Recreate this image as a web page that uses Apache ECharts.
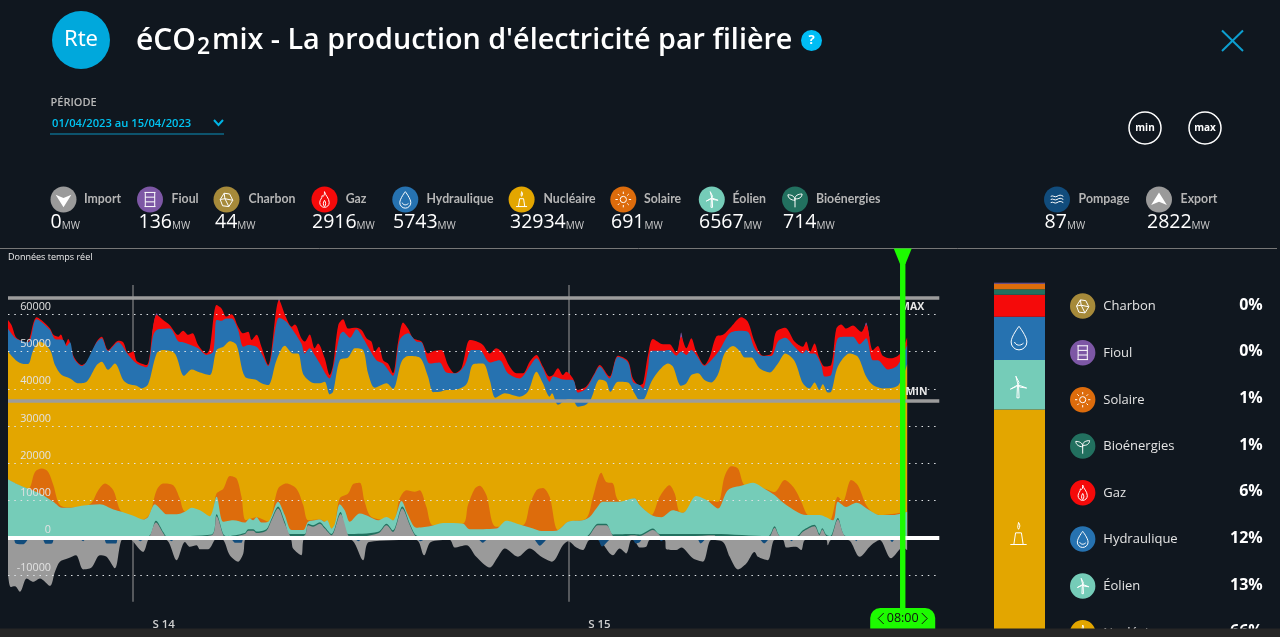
<!DOCTYPE html>
<html><head><meta charset="utf-8">
<style>html,body{margin:0;padding:0;background:#10171f;overflow:hidden}#c{width:1280px;height:637px}</style>
<script src="https://cdn.jsdelivr.net/npm/echarts@6/dist/echarts.min.js"></script>
</head><body><div id="c"></div>
<script>
// Cumulative upper edges of the stacked production areas: [hour since 01/04 00:00, MW]
const cumulFioul=[[55.5,54000],[57.3,60300],[59,57000],[59.1,null],[103.5,58000],[104.5,64400],[105.5,60000],[105.6,null],[258.5,50000],[259.5,55100],[260.5,50500],[260.6,null],[329.5,54000],[330.8,57800],[332,54000]];
const cumulGaz=[[0,58500],[1.4,57100],[2.95,54000],[4.6,53100],[7.2,52200],[8.5,54000],[9.75,57600],[11,59200],[13.6,58000],[16.2,56200],[17.5,54500],[19.4,54000],[20.4,54600],[22,51800],[23.2,53400],[25.4,48600],[28.4,46400],[30.9,47700],[34.2,52700],[36.1,54000],[38.6,50400],[40.6,51800],[42.5,52900],[44.4,52500],[46.4,49500],[48.3,50000],[49.6,47500],[53.4,46400],[56,57100],[57.3,59800],[59.8,58500],[62.4,57100],[65.6,54500],[67.5,55600],[69.5,54500],[71.1,54900],[73.3,51800],[76.5,49500],[77.8,50900],[80.4,62500],[82.3,61600],[84.2,59400],[86.2,60000],[88.7,56700],[90.7,54900],[92.6,55300],[93.9,53100],[95.8,54500],[97.7,51300],[100.3,46400],[104.5,63800],[107.3,59000],[109.3,56700],[110.6,57300],[113.1,53600],[114.4,52700],[116.3,54600],[118.2,50900],[119.5,52200],[122.1,48200],[124,43700],[125.3,46400],[127.3,57100],[129.2,58700],[131.1,56200],[134.3,56400],[136.3,55800],[138.2,53600],[140.1,52700],[141.4,50000],[143,51300],[144.6,47700],[146.5,46800],[148.4,44200],[150.4,52700],[152.3,57800],[154.2,56200],[156.2,53600],[159.4,52700],[161.9,49500],[164.5,50200],[167.1,50400],[169.6,46400],[172.2,44200],[174.8,45500],[178,53100],[180.5,52800],[183.1,51800],[185.7,49500],[188.2,50900],[190.8,49500],[193.4,46000],[196,44200],[198.5,44200],[201.1,47300],[203.7,49100],[206.2,46000],[208.8,43300],[210.1,43700],[212,45500],[213.9,43700],[215.2,44600],[217.8,42800],[219.7,39700],[222.9,40600],[226.1,44200],[228.1,46400],[231.9,43300],[235.1,48900],[239,47500],[240.9,42800],[243.5,41000],[244.8,41500],[246.7,49100],[248.6,53400],[252.5,52000],[255,52000],[257.6,49700],[259.5,54000],[261.5,50900],[263.4,53600],[265.3,50000],[268.5,46400],[270.5,48600],[273,54000],[275.6,54500],[278.8,56700],[282.7,59200],[285.2,58000],[287.8,52700],[291,48900],[294.2,49500],[296.1,55300],[299.6,56400],[303.2,52700],[306.4,51300],[307.7,52700],[309.2,50000],[310.9,52200],[312.8,48200],[314.8,46000],[317.3,46400],[319.3,56200],[321.2,57300],[323.1,56200],[325.7,57000],[328.9,55300],[330.8,57300],[333.4,50400],[335.3,51500],[337.2,48900],[340.4,48200],[343.7,49300],[346.6,53800]];
const cumulHydro=[[0,56200],[2.95,53600],[7.8,52500],[11,58700],[16.2,55800],[18.1,53400],[21.3,53100],[22.6,51500],[23.9,52500],[25.4,48200],[28.4,46100],[34.2,52500],[36.1,53600],[38.6,50200],[42.5,52500],[46.4,49100],[49.6,46800],[53.4,45800],[56,54400],[57.3,55800],[59.8,56100],[62.4,56200],[65.6,52800],[67.5,52500],[73.3,50900],[76.5,49100],[79.1,50000],[80.4,58500],[82.3,58300],[84.2,58900],[86.2,58900],[88.7,55800],[90.7,51300],[92.6,51800],[95.8,51300],[97.7,49500],[100.3,46100],[104.5,59100],[107.3,58000],[113.1,52200],[114.4,49500],[116.3,50900],[118.2,49100],[120.2,46800],[124,42800],[125.3,45500],[127.9,54400],[129.2,55300],[131.8,53700],[134.3,56000],[136.9,53600],[139.5,50400],[142,47700],[144.6,46800],[148.4,43500],[151,53100],[154.2,54900],[157.4,52700],[159.4,52500],[162.6,46800],[166.4,47100],[169,44400],[172.8,44200],[176.1,46400],[178.6,50400],[181.8,50400],[185.7,47100],[189.5,47700],[192.7,44200],[197.2,42800],[201.1,46000],[203.7,48200],[206.2,45500],[208.8,41900],[210.1,43300],[212,43000],[213.9,42500],[217.8,42400],[219.7,39000],[222.9,40100],[226.1,43900],[228.1,46000],[231.9,42800],[235.1,48600],[239,47100],[240.9,41900],[243.5,41000],[244.8,40100],[246.7,45500],[248,50200],[252.5,50200],[255,50400],[257.6,48900],[259.5,50000],[261.5,49100],[263.4,50400],[265.3,49100],[268.5,46200],[271.1,47700],[274.3,50400],[278.2,54900],[282,55600],[285.2,55300],[287.8,50900],[291,48800],[294.2,48800],[296.8,52700],[299.6,53700],[303.2,51300],[306.4,49500],[307.7,50400],[309.2,49500],[310.9,49500],[313.5,46400],[314.8,43300],[317.3,43700],[319.9,53600],[323.1,54000],[325.7,54000],[328.3,52000],[330.8,53600],[333.4,47700],[335.3,47700],[339.2,45200],[343,46400],[346.6,51800]];
const cumulNucleaire=[[0,50000],[3,47700],[6,46700],[7.8,46700],[9.75,50400],[12.3,52700],[16.2,50400],[18.1,46400],[20.7,43700],[23.9,42800],[27.1,41500],[30.3,41900],[34.2,46400],[36.1,47300],[38.6,45100],[41.2,46800],[44.4,42400],[46.4,41300],[49.6,40800],[51.5,40100],[54,41200],[57.3,49500],[59.8,50400],[64.3,49500],[67.9,43500],[70.8,45200],[74,44400],[77.8,43700],[80.4,50400],[83,51300],[85.5,52800],[88.1,51800],[91.3,43300],[95.8,42400],[97.7,41500],[100.3,41000],[103.5,47700],[106.7,51600],[109.9,49500],[111.8,49500],[114,43700],[118.2,41500],[120.2,41500],[122.1,41900],[124,38500],[125.3,39200],[127.9,47700],[131.1,48400],[133.7,50900],[136.9,50400],[138.8,44200],[141.4,40300],[145.9,41500],[148.4,40000],[151.7,47300],[154.2,48800],[158.7,48400],[161.9,43300],[163.9,39100],[166.4,39200],[169,39700],[171.6,39700],[176.7,41200],[179.3,46600],[183.1,46800],[185.7,42400],[187.9,37600],[191.5,38800],[197.2,37900],[200.4,39200],[203.7,44600],[206.2,41500],[208.8,37900],[209.7,38800],[212,35700],[215.9,37200],[217.8,37000],[219.7,35200],[222.9,35800],[224.8,37400],[228.1,42500],[230.6,41900],[232.2,39200],[235.1,41900],[239,41700],[241.5,38800],[243.5,37000],[245.4,37400],[248,41900],[251.2,45100],[254.4,46800],[256.3,46000],[259.5,40800],[261.5,41500],[263.4,43700],[266,44200],[268.5,42400],[271.1,41700],[273.7,43900],[276.2,49500],[279.5,51500],[282,50200],[284,48400],[286.5,48400],[289.7,45500],[293.6,44400],[296.8,46800],[299.6,49500],[303.2,47500],[306.4,41500],[309,40100],[310.9,41700],[312.8,39700],[314.1,41200],[316,39000],[317.3,39200],[319.9,46000],[324.4,49500],[327.6,48600],[330.8,43300],[333.4,41000],[337.2,40100],[343,40800],[346.6,46600]];
const cumulSolaire=[[0,15660],[7.8,13250],[10.4,17700],[13,18600],[15.5,17700],[17.5,14100],[20,8800],[24.5,8100],[31.6,9000],[34.8,12800],[37.4,14600],[40.6,12800],[43.8,7000],[52.1,4900],[54.7,6500],[57.3,12800],[59.8,14600],[63.7,14100],[66.2,10600],[68.2,7000],[77.8,5800],[80.4,11900],[83,13200],[85.5,16600],[88.1,15900],[90,11000],[91.7,4700],[95.8,5500],[100.3,4300],[104.1,13200],[107.3,14600],[111.2,13200],[113.8,8800],[115.7,4700],[120.2,4900],[122.1,4300],[124.7,2500],[126,3800],[127.9,10600],[131.1,11900],[133,14400],[135.6,14800],[137.5,9700],[140.1,5600],[148.4,4700],[151,10600],[153.6,12800],[156.8,12400],[158.7,12800],[161.3,8300],[163.9,3400],[175.4,3800],[177.3,8800],[179.9,13200],[181.8,14000],[184.4,11500],[188.2,3000],[198.5,3400],[201.1,8800],[203.7,12800],[206.2,13400],[208.8,11000],[212,2100],[215.9,4300],[222.9,5200],[225.5,11000],[228.7,17500],[230.6,15000],[233.2,14600],[234.5,11000],[235.8,9700],[238,9700],[241.5,10600],[243.5,8800],[248,6100],[251.2,11000],[255,14100],[257,11900],[259.5,6700],[269.8,9900],[273.7,9700],[276.2,16400],[278.8,19200],[281.4,18600],[284,14100],[291.6,13200],[295.5,12300],[299.4,15500],[303.2,13200],[305.8,9700],[308.3,6100],[312.8,4900],[316.7,4600],[319.9,11000],[321.8,9700],[325,15500],[327.6,14100],[330.8,8800],[333.4,6700],[336,6100],[346.6,7000]];
const cumulEolien=[[0,15700],[2.95,14600],[7.8,13200],[12.3,11900],[17.5,9700],[20.7,8100],[24.5,8100],[28.4,8600],[35.4,9000],[40.6,7600],[43.8,7000],[48.3,5900],[52.1,4900],[54,5600],[56.6,9000],[59.2,7400],[61.1,6300],[65,6300],[68.2,7000],[70.8,8100],[74,7400],[77.8,5800],[80.4,11000],[83,4300],[86.8,4700],[91.3,4100],[93.2,5200],[94.5,4700],[95.8,5500],[97.7,4100],[100.3,4300],[104.1,9700],[106.7,6100],[109.3,2100],[113.8,2100],[115.7,4300],[118.2,4700],[120.2,4900],[122.1,4300],[123,4700],[124.7,2500],[126,3800],[127.9,9000],[129.8,7400],[131.8,4300],[135.6,6500],[139.5,5600],[142.7,4700],[145.9,5600],[148.4,4700],[151.7,9900],[154.2,6100],[157.4,2700],[162.6,3100],[167.7,4000],[175.4,3800],[178,2300],[188.2,2500],[192.1,4600],[197.2,3600],[202.4,2500],[205.6,1800],[211.4,1900],[215.9,4300],[221.6,4700],[224.2,5600],[226.8,7900],[229.3,9700],[235.8,9700],[241.5,10600],[243.5,8800],[248,6100],[251.8,5500],[256.3,7400],[260.2,6700],[265.3,11200],[269.8,9900],[273.7,7900],[277.5,12800],[283.3,14100],[287.2,14800],[291.6,13200],[295.5,11500],[300,8800],[307.7,6100],[312.8,6100],[318,4700],[319.9,9700],[323.1,8300],[327,9400],[332.1,7400],[336,6100],[341.1,6100],[346.6,7000]];
const cumulBio=[[0,450],[54,450],[57,4600],[60,1400],[61.1,450],[78.5,900],[80.4,6300],[83,1000],[84,450],[91.3,1300],[92.6,2300],[94.5,2300],[95.8,1700],[99.6,2300],[101.6,5100],[104.1,8400],[106.7,4300],[108.6,1000],[114.4,1000],[115.7,3800],[117.6,3400],[120.2,4200],[122.1,2900],[124.7,1000],[128.2,6900],[131.1,1000],[142.7,1600],[145.9,3800],[148.4,2000],[152,8400],[154.9,3800],[156.8,1000],[158,450],[223,450],[224.2,1100],[227.4,3800],[230.6,3800],[233.2,900],[240.9,1000],[243.5,900],[248.6,2500],[251.2,1000],[272.4,1000],[293,450],[295.5,3100],[297.7,450],[304,450],[306.4,2000],[310.9,3500],[312.8,1100],[313.9,2600],[315.4,900],[317,450],[319.9,5300],[323.1,450],[346.6,450]];
const importTop=[[0,0],[54,0],[54.7,500],[57,4100],[60,1000],[61.1,0],[78.5,700],[80.4,5800],[83,700],[84,0],[91.3,1000],[92.6,1900],[94.5,1900],[95.8,1300],[99.6,1900],[101.6,4700],[104.1,7900],[106.7,3800],[108.6,700],[109.5,0],[114.4,700],[115.7,3400],[117.6,3000],[120.2,3800],[122.1,2500],[124.7,700],[128.2,6400],[131.1,700],[132,0],[142.7,1200],[145.9,3400],[148.4,1600],[152,7900],[154.9,3400],[156.8,700],[158,0],[223,0],[224.2,700],[227.4,3400],[230.6,3400],[233.2,500],[234,0],[240.9,700],[243.5,500],[248.6,2100],[251.2,700],[252,0],[272.4,700],[273,0],[293,0],[295.5,2700],[297.7,300],[304,0],[306.4,1600],[310.9,3100],[312.8,700],[313.9,2200],[315.4,500],[317,0],[319.9,4900],[323.1,300],[335,0],[346.6,0]];
const exportBottom=[[0,-9600],[1,-13200],[2.7,-13000],[4.6,-14500],[7.2,-10900],[9.75,-11800],[12.3,-10900],[16.2,-12900],[18.1,-9100],[20,-6400],[23.2,-5500],[26.2,-4700],[29,-8500],[32.2,-8000],[35.4,-4700],[38,-5100],[41.2,-8200],[43.8,-600],[46.4,-200],[52.1,-3800],[54.7,-200],[61.1,-600],[65,-6000],[68.2,-1100],[70.1,-2400],[72.7,-2000],[74,-3100],[77.2,-3100],[80.4,-200],[83,-600],[85.5,-4700],[88.7,-6400],[90.7,-4200],[91.9,-200],[108.6,-200],[109.9,-2900],[113.1,-4700],[114.4,-200],[125.3,-200],[132.4,-600],[136.9,-6000],[139.2,-1100],[157.4,-600],[160.4,-4700],[163,-1100],[170.3,-600],[172.2,-2600],[176.7,-2000],[180.5,-5100],[185.7,-8000],[188.9,-5100],[191.5,-2900],[196.6,-5100],[201.1,-2900],[205.6,-5100],[209.7,-6400],[213.9,-2000],[215.9,-900],[219.1,-2600],[221.6,-3300],[224.2,-600],[227.4,-600],[233.2,-4700],[235.8,-2900],[238.3,-4200],[240.3,-600],[241.5,-700],[243.5,-2600],[246,-2400],[247.4,-600],[253.1,-600],[253.8,-3100],[257.6,-3300],[259.5,-2600],[264,-5500],[267.9,-6400],[271.1,-600],[275.6,-1100],[278.2,-5100],[281.4,-8500],[284.6,-6900],[287.8,-3800],[289.1,-5100],[292.9,-6000],[295.5,-600],[298.7,-600],[300,-2600],[303.8,-2400],[305.8,-3300],[307.3,-600],[315.4,-600],[316,-2000],[317.3,-600],[323.8,-600],[328.3,-5100],[332.7,-2000],[336,-600],[340.4,-5500],[344.9,-2600],[346.6,-3300]];
const pompageBottom=[[0,0],[2,0],[3,-1500],[6,-1700],[8.5,0],[13,0],[14.5,-1600],[17,-1500],[18,0],[27,0],[29,-900],[30.3,0],[36.8,0],[38,-1500],[41.7,-1500],[42.5,0],[48.9,0],[51,-900],[53.3,0],[61,0],[63,-900],[65,0],[85.5,0],[87.5,-1300],[90,-1300],[91,0],[133,0],[135,-900],[137.5,0],[157,0],[159,-900],[162,0],[180.5,0],[183,-1300],[185.7,0],[202,0],[205,-2100],[208.8,0],[226.8,0],[229,-2300],[233.2,0],[240.3,0],[242,-1500],[243.5,-1200],[245,0],[250.3,0],[251.8,-900],[254,0],[265.3,0],[267,-1500],[269.8,0],[276.2,0],[277.5,-500],[279,0],[289,0],[291.5,-1500],[294.2,0],[300.6,0],[302,-900],[303.8,0],[325.7,0],[327,-900],[328.3,0],[339.2,0],[340.8,-1100],[342.4,0],[346.6,0]];

const refLineValues={max:64500,min:36900};
const weekStartHours=[48,216];
const weekLabelHours=[60,228];
const weekLabels=['S 14','S 15'];
const cursorHour=344.9;
const cursorLabel='08:00';

// Instant values at the cursor
const headerNames=['Import','Fioul','Charbon','Gaz','Hydraulique','Nucléaire','Solaire','Éolien','Bioénergies','Pompage','Export'];
const headerValues=[0,136,44,2916,5743,32934,691,6567,714,87,2822];
const barNames=['Nucléaire','Éolien','Hydraulique','Gaz','Bioénergies','Solaire','Charbon','Fioul'];
const barValues=[32934,6567,5743,2916,714,691,44,136];
const shareNames=['Charbon','Fioul','Solaire','Bioénergies','Gaz','Hydraulique','Éolien','Nucléaire'];
const sharePercents=['0%','0%','1%','1%','6%','12%','13%','66%'];

const COL={Import:'#9a9a9a',Fioul:'#7d57a5',Charbon:'#a68a3a',Gaz:'#f50a0a','Hydraulique':'#2672b0','Nucléaire':'#e3a600',Solaire:'#dd6c0c','Éolien':'#75ccb8','Bioénergies':'#22705f',Pompage:'#114c7c',Export:'#9a9a9a'};
const ICON={
 Import:{d:'M2 6L12 10L22 6L12 22Z',fill:1},Export:{d:'M2 19L12 15L22 19L12 3Z',fill:1},
 Fioul:{d:'M5 3H19M5 21H19M6 3V21M18 3V21M6 9H18M6 15H18'},
 Charbon:{d:'M7 20L4 12L9 4L16 5L20 13L15 21Z M9 4L10 11L4 12 M10 11L15 21 M10 11L20 13'},
 Gaz:{d:'M12 2C13 7 18 10 18 16A6 6 0 0 1 6 16C6 12 9 11 9 7C11 9 12 7 12 2Z M12 21C10 19 10 16 12 13C14 16 14 19 12 21Z'},
 'Hydraulique':{d:'M12 2C12 2 5 11 5 16A7 7 0 0 0 19 16C19 11 12 2 12 2Z M8 16C9 19 13 20 16 17'},
 'Nucléaire':{d:'M5 21H19 M8 21L9.5 11H14.5L16 21 M12 8C10.5 6 12 4 12 2C13.5 4 13.5 6 12 8Z'},
 Solaire:{d:'M12 8A4 4 0 1 0 12.01 8Z M12 2V5 M12 19V22 M2 12H5 M19 12H22 M5 5L7 7 M17 17L19 19 M5 19L7 17 M17 7L19 5'},
 'Éolien':{d:'M11 22L11.5 11H12.5L13 22Z M12 10L10 2L13 8Z M12 10L20 13L13.5 12Z M12 10L5 14L10.5 11.5Z'},
 'Bioénergies':{d:'M12 22V11 M12 13C12 8 8 6 3 6C3 10 7 13 12 13Z M12 11C12 7 16 5 21 5C21 9 17 12 12 11Z'},
 Pompage:{d:'M4 8C7 6 9 10 12 8S17 6 20 8 M4 12C7 10 9 14 12 12S17 10 20 12 M4 16C7 14 9 18 12 16S17 14 20 16'}
};
Object.keys(ICON).forEach((k,i)=>{ICON[k].type='rteIcon'+i;echarts.graphic.registerShape(ICON[k].type,echarts.graphic.extendPath(ICON[k].d,{}));});

const FONT='"Open Sans","Noto Sans",sans-serif';
const LBL='Lato,"Open Sans",sans-serif';
const g=[];
function txt(x,y,text,font,fill,extra){g.push({type:'text',x,y,z:50,silent:true,style:Object.assign({text,font,fill,verticalAlign:'middle',align:'left'},extra||{})});}
function icon(name,cx,cy,s,col,z){const ic=ICON[name],k=s/24;g.push({type:ic.type,z:z||50,silent:true,x:cx-s/2,y:cy-s/2,scaleX:k,scaleY:k,style:ic.fill?{fill:col||'#fff',stroke:null}:{fill:'none',stroke:col||'#fff',lineWidth:1/k}});}
function badge(name,cx,cy,r){g.push({type:'circle',z:50,silent:true,shape:{cx,cy,r},style:{fill:COL[name]}});icon(name,cx,cy,r*1.45);}

// Header
g.push({type:'circle',z:50,shape:{cx:81,cy:40,r:29},style:{fill:'#00a8dc'}});
txt(81,40,'Rte','22px "Noto Sans",sans-serif','#fff',{align:'center'});
txt(136,41,'éCO','600 30px '+FONT,'#fff');
txt(197,47,'2','600 23px '+FONT,'#fff');
txt(212,41,"mix - La production d'électricité par filière",'600 28.75px '+FONT,'#fff');
g.push({type:'circle',z:50,shape:{cx:811.5,cy:40.5,r:10.5},style:{fill:'#00bdf5'}});
txt(811.5,40.5,'?','bold 13px '+FONT,'#fff',{align:'center'});
g.push({type:'line',z:50,shape:{x1:1222,y1:30.5,x2:1243,y2:51},style:{stroke:'#0d9fd0',lineWidth:2}});
g.push({type:'line',z:50,shape:{x1:1243,y1:30.5,x2:1222,y2:51},style:{stroke:'#0d9fd0',lineWidth:2}});
txt(50.5,103,'PÉRIODE','600 11px '+FONT,'#b9b9b9');
txt(52,123.5,'01/04/2023 au 15/04/2023','600 11.2px '+FONT,'#00c4f2');
g.push({type:'line',z:50,shape:{x1:50,y1:134,x2:224,y2:134},style:{stroke:'#0a92bd',lineWidth:1}});
g.push({type:'polyline',z:50,shape:{points:[[214,120],[218.5,125],[223,120]]},style:{stroke:'#00b4e4',lineWidth:2,fill:'none'}});
[[1145,'min'],[1205,'max']].forEach(([cx,t])=>{g.push({type:'circle',z:50,shape:{cx,cy:128,r:16},style:{fill:'none',stroke:'#fff',lineWidth:1.5}});txt(cx,128,t,'bold 10px '+FONT,'#fff',{align:'center'});});

// Instant legend row
const hdrIconX=[63.5,150,226.5,324.5,405.3,521.6,623.3,711.8,795,1057,1159];
const hdrNameX=[84,171.5,248.5,345.7,426.5,543.5,644,732.5,816,1078.6,1180.6];
const hdrValX=[50.5,138.5,215,312,393,510,611,699,783,1044.6,1147];
headerNames.forEach((n,i)=>{
 badge(n,hdrIconX[i],199.5,13);
 txt(hdrNameX[i],199.5,n,'bold 12.3px '+LBL,'#b5b5b5');
 g.push({type:'text',x:hdrValX[i],y:222,z:50,silent:true,style:{text:'{v|'+headerValues[i]+'}{u|MW}',verticalAlign:'middle',rich:{v:{font:'19.5px '+FONT,fill:'#fff',verticalAlign:'bottom'},u:{font:'10px '+FONT,fill:'#ccc',verticalAlign:'bottom',padding:[0,0,1,0]}}}});
});
g.push({type:'line',z:5,shape:{x1:0,y1:248.5,x2:1277,y2:248.5},style:{stroke:'#777',lineWidth:1}});
txt(8,257.5,'Données temps réel','9px '+FONT,'#eee');
txt(900,307.5,'MAX','bold 10.5px '+FONT,'#e8e8e8',{});
txt(905.5,392.5,'MIN','bold 10.5px '+FONT,'#e8e8e8',{});

// Share legend
const shareY=[306,352.7,399.7,446,492.7,539,586,632.7];
shareNames.forEach((n,i)=>{
 badge(n,1082.7,shareY[i],12.7);
 txt(1103.3,shareY[i]+0.7,n,'13px '+FONT,'#e4e4e4');
 txt(1262.7,shareY[i]-1,sharePercents[i],'bold 16px '+FONT,'#fff',{align:'right'});
});
// Bar icons
icon('Hydraulique',1019,337.5,27);icon('Éolien',1018,387,26);icon('Nucléaire',1018.5,534,28);
// Bottom strip of the capture
g.push({type:'rect',z:100,shape:{x:0,y:628.5,width:1280,height:9},style:{fill:'#262626'}});

const chart=echarts.init(document.getElementById('c'),null,{renderer:'canvas'});
function area(name,data,color,z){return {name,type:'line',xAxisIndex:0,yAxisIndex:0,data,z,showSymbol:false,symbol:'none',smooth:0.3,lineStyle:{width:0},areaStyle:{color,opacity:1},silent:true,animation:false,connectNulls:false};}
const series=[
 {type:'line',data:[],z:1,xAxisIndex:0,yAxisIndex:0,silent:true,markLine:{silent:true,z:1,symbol:'none',label:{show:false},animation:false,lineStyle:{color:'#6d6f72',width:1.5,type:'solid'},
   data:weekStartHours.map(h=>[{coord:[h,67900]},{coord:[h,-17200]}])}},
 area('Fioul',cumulFioul,COL.Fioul,2),
 area('Gaz',cumulGaz,COL.Gaz,3),
 area('Hydraulique',cumulHydro,COL['Hydraulique'],4),
 area('Nucléaire',cumulNucleaire,COL['Nucléaire'],5),
 area('Solaire',cumulSolaire,COL.Solaire,6),
 area('Éolien',cumulEolien,COL['Éolien'],7),
 area('Bioénergies',cumulBio,COL['Bioénergies'],8),
 area('Import',importTop,COL.Import,9),
 area('Export',exportBottom,COL.Export,9),
 area('Pompage',pompageBottom,COL.Pompage,10),
 {type:'line',data:[],z:30,xAxisIndex:0,yAxisIndex:0,silent:true,markLine:{silent:true,z:30,symbol:'none',label:{show:false},animation:false,
   data:[{yAxis:refLineValues.max,lineStyle:{color:'#9c9c9c',width:3.5,type:'solid'}},{yAxis:refLineValues.min,lineStyle:{color:'#9c9c9c',width:3.5,type:'solid'}},{yAxis:0,lineStyle:{color:'#fff',width:4,type:'solid'}}]}}
];
barNames.forEach((n,i)=>series.push({name:n,type:'bar',xAxisIndex:1,yAxisIndex:1,stack:'mix',data:[barValues[i]],barWidth:'100%',silent:true,animation:false,itemStyle:{color:COL[n]}}));

const barTotal=barValues.reduce((a,b)=>a+b,0);
const option={
 backgroundColor:'#10171f',animation:false,
 grid:[{left:8,top:277.1,width:931.3,height:335.2},{left:994,top:282.7,width:51,bottom:0}],
 xAxis:[
  {type:'value',gridIndex:0,min:0,max:359,axisLine:{show:false},axisTick:{show:false},splitLine:{show:false},
   axisLabel:{customValues:weekLabelHours,margin:6,color:'#cfcfcf',fontSize:11.5,fontWeight:600,fontFamily:FONT,formatter:v=>weekLabels[weekLabelHours.indexOf(v)]||''}},
  {type:'category',gridIndex:1,data:['mix'],show:false}
 ],
 yAxis:[
  {type:'value',gridIndex:0,min:-20000,max:70000,interval:10000,z:15,axisLine:{show:false},axisTick:{show:false},
   splitLine:{show:true,showMinLine:false,showMaxLine:false,lineStyle:{color:'#dfe3e6',width:1,type:[1.5,4.8]}},
   axisLabel:{inside:true,margin:43,align:'right',verticalAlign:'bottom',padding:[0,0,2,0],color:'#e2e2e2',fontSize:10.8,fontFamily:FONT,showMinLabel:false,showMaxLabel:false,formatter:v=>String(v)}},
  {type:'value',gridIndex:1,min:2818,max:barTotal,show:false}
 ],
 series,
 graphic:{elements:g}
};
chart.setOption(option);

// Cursor placed through the axis scale
const cx=chart.convertToPixel({xAxisIndex:0},cursorHour);
const GREEN='#1dfb00';
const cursor=[
 {type:'rect',z:60,shape:{x:cx-2.7,y:250,width:5.4,height:360},style:{fill:GREEN}},
 {type:'polygon',z:60,shape:{points:[[cx-9,248.5],[cx+9,248.5],[cx+2.7,264],[cx-2.7,264]]},style:{fill:GREEN}},
 {type:'rect',z:110,shape:{x:cx-32.5,y:608,width:65,height:20.5,r:[10,10,0,0]},style:{fill:GREEN}},
 {type:'text',z:111,x:cx,y:618.5,style:{text:cursorLabel,font:'12.5px '+FONT,fill:'#101010',align:'center',verticalAlign:'middle'}},
 {type:'polyline',z:111,shape:{points:[[cx-19,613],[cx-24.5,618.5],[cx-19,624]]},style:{stroke:'#101010',fill:'none',lineWidth:1}},
 {type:'polyline',z:111,shape:{points:[[cx+19,613],[cx+24.5,618.5],[cx+19,624]]},style:{stroke:'#101010',fill:'none',lineWidth:1}}
];
chart.setOption({graphic:{elements:g.concat(cursor)}},{replaceMerge:['graphic']});
</script></body></html>
